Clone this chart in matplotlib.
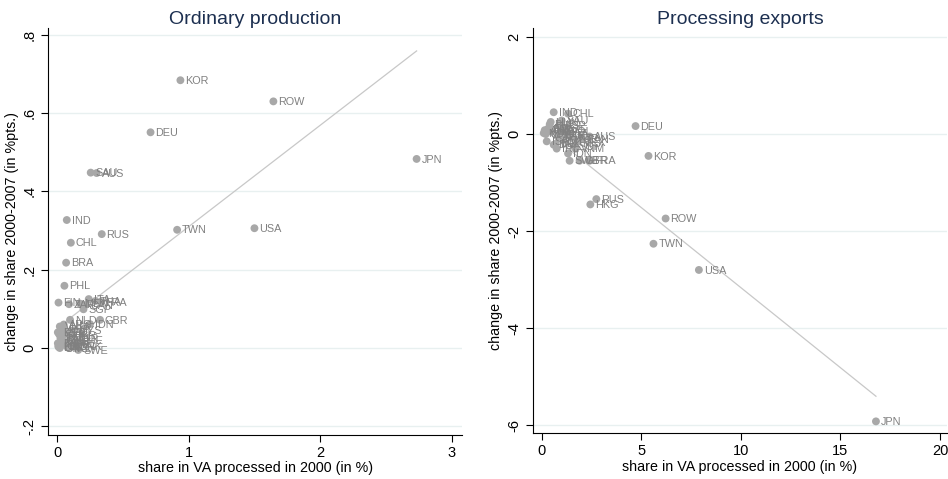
import numpy as np
import matplotlib
matplotlib.use("Agg")
import matplotlib.pyplot as plt

plt.rcParams['font.family'] = ['Liberation Sans', 'DejaVu Sans']

# ordinary production: share in VA 2000 (%) vs change 2000-2007 (%pts.)
ord_names = ['KOR', 'ROW', 'DEU', 'JPN', 'SAU', 'AUS', 'IND', 'USA', 'TWN', 'RUS',
             'CHL', 'BRA', 'PHL', 'ITA', 'THA', 'FRA', 'FIN', 'ZAF', 'MEX', 'CAN',
             'SGP', 'NLD', 'IDN', 'GBR', 'ESP', 'POL', 'ISR', 'SWE', 'CZE', 'AUT',
             'BEL', 'DNK', 'TUR', 'CHE', 'HUN', 'VNM', 'NOR', 'IRL', 'PRT', 'NZL',
             'GRC', 'ARG', 'MYS', 'SVK', 'ROU', 'BGR', 'LTU', 'EST']
ord_x = [0.937, 1.644, 0.710, 2.733, 0.255, 0.300, 0.073, 1.500, 0.912, 0.339,
         0.104, 0.068, 0.055, 0.240, 0.290, 0.330, 0.010, 0.090, 0.170, 0.215,
         0.200, 0.098, 0.250, 0.326, 0.050, 0.080, 0.120, 0.160, 0.030, 0.060,
         0.100, 0.130, 0.110, 0.140, 0.040, 0.020, 0.070, 0.090, 0.030, 0.010,
         0.020, 0.050, 0.120, 0.015, 0.025, 0.005, 0.010, 0.005]
ord_y = [0.684, 0.630, 0.551, 0.483, 0.448, 0.447, 0.327, 0.306, 0.302, 0.291,
         0.269, 0.218, 0.159, 0.125, 0.120, 0.118, 0.116, 0.112, 0.114, 0.110,
         0.099, 0.072, 0.061, 0.072, 0.048, 0.040, 0.032, -0.005, 0.020, 0.015,
         0.010, 0.005, 0.025, 0.020, 0.030, 0.055, 0.005, 0.000, 0.010, 0.005,
         0.000, 0.060, 0.045, 0.035, 0.025, 0.012, 0.003, 0.040]
ord_fit = (0.259, 0.051)   # slope, intercept

# processing exports
proc_names = ['JPN', 'USA', 'TWN', 'ROW', 'RUS', 'HKG', 'KOR', 'DEU', 'CHL', 'IND',
              'SAU', 'ESP', 'ITA', 'AUS', 'MEX', 'CAN', 'IDN', 'SWE', 'GBR', 'FRA',
              'BRA', 'NLD', 'THA', 'MYS', 'PHL', 'SGP', 'CHE', 'BEL', 'AUT', 'FIN',
              'ZAF', 'POL', 'TUR', 'ISR', 'DNK', 'CZE', 'HUN', 'IRL', 'NOR', 'VNM']
proc_x = [16.78, 7.89, 5.61, 6.22, 2.74, 2.44, 5.36, 4.71, 1.32, 0.60,
          1.00, 0.90, 1.30, 2.40, 1.80, 2.00, 1.32, 1.40, 1.90, 2.40,
          0.30, 0.50, 0.80, 1.10, 0.40, 1.60, 0.20, 0.70, 0.15, 0.35,
          0.90, 1.20, 1.50, 0.25, 0.60, 1.00, 0.45, 0.75, 0.10, 1.70]
proc_y = [-5.92, -2.80, -2.26, -1.74, -1.34, -1.45, -0.45, 0.165, 0.42, 0.45,
          0.28, 0.19, 0.02, -0.05, -0.16, -0.10, -0.40, -0.55, -0.55, -0.55,
          0.10, 0.05, -0.05, -0.12, 0.20, -0.25, 0.00, -0.20, 0.08, 0.12,
          -0.02, 0.05, -0.08, -0.15, -0.22, 0.10, 0.25, -0.30, 0.02, -0.30]
proc_fit = (-0.33, 0.135)

title_color = '#1c2f50'
marker_color = '#a8a8a8'
label_color = '#808080'
grid_color = '#e8f0f0'
fit_color = '#c8c8c8'

fig = plt.figure(figsize=(9.48, 4.79), dpi=100)
ax1 = fig.add_axes([0.0506, 0.092, 0.437, 0.850])
ax2 = fig.add_axes([0.562, 0.096, 0.437, 0.846])


def panel(ax, names, x, y, fit, title, yticks, yticklabels, xticks, xlim, ylim):
    x = np.array(x)
    xs = np.array([x.min(), x.max()])
    ax.plot(xs, fit[1] + fit[0] * xs, color=fit_color, lw=0.9, zorder=2)
    ax.scatter(x, y, s=32, color=marker_color, edgecolors='none', zorder=3)
    for n, xi, yi in zip(names, x, y):
        ax.annotate(n, (xi, yi), xytext=(3.5, -0.5), textcoords='offset points',
                    fontsize=7.8, color=label_color, va='center', ha='left', zorder=4)
    ax.set_xlim(*xlim)
    ax.set_ylim(*ylim)
    ax.set_yticks(yticks)
    ax.set_yticklabels(yticklabels, rotation=90, va='center')
    ax.set_xticks(xticks)
    ax.yaxis.grid(True, color=grid_color, lw=1)
    ax.set_axisbelow(True)
    for s in ['top', 'right']:
        ax.spines[s].set_visible(False)
    ax.tick_params(direction='out', length=5, width=0.8, labelsize=10.5, pad=3)
    ax.set_title(title, fontsize=14, color=title_color, pad=3)
    ax.set_xlabel('share in VA processed in 2000 (in %)', fontsize=10.3, labelpad=1)
    ax.set_ylabel('change in share 2000-2007 (in %pts.)', fontsize=10.3, labelpad=3)


panel(ax1, ord_names, ord_x, ord_y, ord_fit, 'Ordinary production',
      [-0.2, 0, 0.2, 0.4, 0.6, 0.8], ['-.2', '0', '.2', '.4', '.6', '.8'],
      [0, 1, 2, 3], (-0.07, 3.08), (-0.222, 0.818))
panel(ax2, proc_names, proc_x, proc_y, proc_fit, 'Processing exports',
      [-6, -4, -2, 0, 2], ['-6', '-4', '-2', '0', '2'],
      [0, 5, 10, 15, 20], (-0.45, 20.35), (-6.16, 2.19))

fig.savefig('out.png', dpi=100)
